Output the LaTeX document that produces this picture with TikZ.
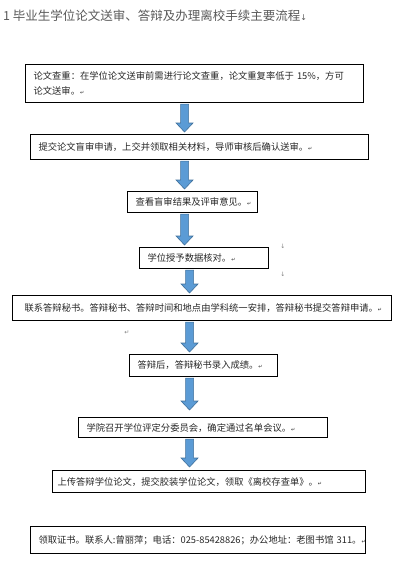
\documentclass[tikz,border=0pt]{standalone}
\usepackage{fontspec}
\newfontfamily\cjk{Noto Sans CJK SC}
\newfontfamily\symf{DejaVu Sans}
\usetikzlibrary{calc}

\definecolor{arrowblue}{HTML}{5B9BD5}
\definecolor{arrowedge}{HTML}{41719C}
\definecolor{titlegray}{HTML}{595959}
\definecolor{textdark}{HTML}{262626}

\newcommand{\pmark}{{\symf\fontsize{5}{5}\selectfont ↵}}

\tikzset{
  stepbox/.style={draw, line width=1.1pt, anchor=north west, inner xsep=8pt, inner ysep=0pt,
    align=left, text=textdark, font=\cjk\fontsize{9.3}{15.5}\selectfont},
  downarrow/.style={fill=arrowblue, draw=arrowedge, line width=0.6pt,
    to path={let \p1=(\tikztostart), \p2=(\tikztotarget) in
      (\x1-4pt,\y1) -- (\x1+4pt,\y1) -- (\x1+4pt,\y2+9pt) -- (\x1+8.5pt,\y2+9pt)
      -- (\x1,\y2) -- (\x1-8.5pt,\y2+9pt) -- (\x1-4pt,\y2+9pt) -- cycle}},
  fmtmark/.style={inner sep=0pt, text=gray, font=\symf\fontsize{6}{6}\selectfont}
}

\begin{document}
\begin{tikzpicture}[x=1pt, y=-1pt]
\useasboundingbox (0,0) rectangle (407,571);

\node[anchor=west, inner sep=0pt, text=titlegray, font=\cjk\fontsize{12.5}{15}\selectfont] (title) at (3,16)
  {1 毕业生学位论文送审、答辩及办理离校手续主要流程{\symf\fontsize{8}{8}\selectfont ↓}};

% flow boxes
\node[stepbox, text width=322pt, minimum height=38pt] (b1) at (25,64)
  {论文查重：在学位论文送审前需进行论文查重，论文重复率低于 15\%，方可\\论文送审。\pmark};
\node[stepbox, text width=322pt, minimum height=25pt] (b2) at (30,134)
  {提交论文盲审申请，上交并领取相关材料，导师审核后确认送审。\pmark};
\node[stepbox, text width=114pt, minimum height=21pt] (b3) at (127,191)
  {查看盲审结果及评审意见。\pmark};
\node[stepbox, text width=113pt, minimum height=21pt] (b4) at (139,247)
  {学位授予数据核对。\pmark};
\node[stepbox, inner xsep=12pt, text width=355pt, minimum height=25pt] (b5) at (12,295)
  {联系答辩秘书。答辩秘书、答辩时间和地点由学科统一安排，答辩秘书提交答辩申请。\pmark};
\node[stepbox, text width=132pt, minimum height=22pt] (b6) at (129,354)
  {答辩后，答辩秘书录入成绩。\pmark};
\node[stepbox, text width=233pt, minimum height=20pt] (b7) at (78,417)
  {学院召开学位评定分委员会，确定通过名单会议。\pmark};
\node[stepbox, inner xsep=5pt, text width=303pt, minimum height=22pt] (b8) at (52,470)
  {上传答辩学位论文，提交胶装学位论文，领取《离校存查单》。\pmark};
\node[stepbox, text width=319pt, minimum height=27pt] (b9) at (30,526)
  {\mbox{领取证书。联系人:曾丽萍；电话：025-85428826；办公地址：老图书馆~311。\pmark}};

% block arrows
\draw[downarrow] ([xshift=-10pt,yshift=-1pt]b1.south) to ([yshift=2pt]b2.north);
\draw[downarrow] ([xshift=-15pt,yshift=-1pt]b2.south) to ([yshift=2pt]b3.north);
\draw[downarrow] ([xshift=-8pt,yshift=-1pt]b3.south) to ([yshift=2pt]b4.north);
\draw[downarrow] ([xshift=-14.5pt,yshift=-1pt]b4.south) to ([yshift=2pt]b5.north);
\draw[downarrow] ([xshift=-12.5pt,yshift=-1pt]b5.south) to ([yshift=2pt]b6.north);
\draw[downarrow] ([xshift=-14pt,yshift=-1pt]b6.south) to ([yshift=7pt]b7.north);
\draw[downarrow] ([xshift=-13.5pt,yshift=-1pt]b7.south) to ([yshift=3pt]b8.north);

% stray marks
\node[fmtmark] (m1) at (283,246) {↓};
\node[fmtmark] (m2) at (283,274) {↓};
\node[fmtmark] (m3) at (127,333) {↵};
\end{tikzpicture}
\end{document}
